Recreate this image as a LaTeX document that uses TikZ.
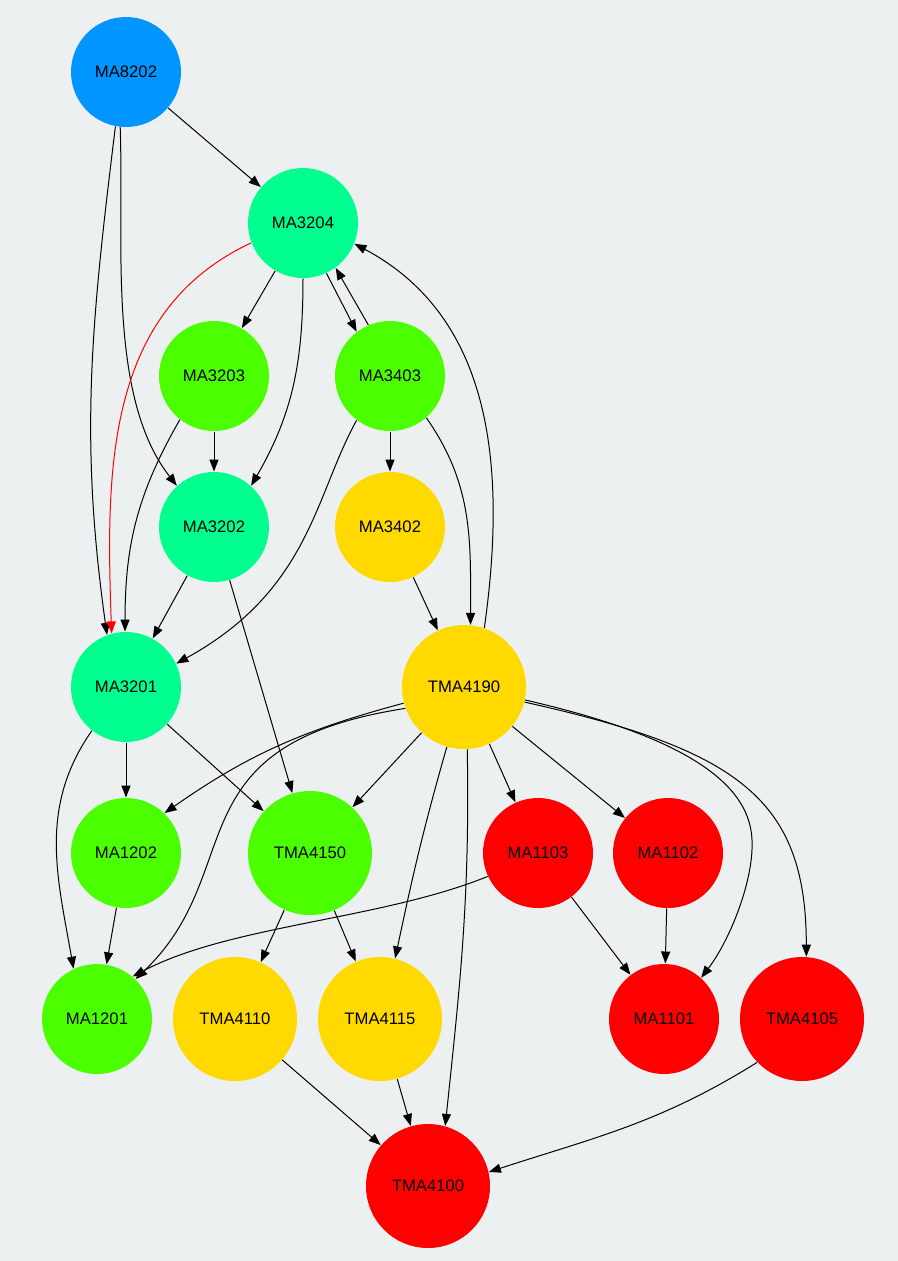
\documentclass[tikz,border=0pt]{standalone}
\usepackage{fontspec}
\setmainfont{Liberation Sans}
\usetikzlibrary{arrows.meta}
\definecolor{bgcol}{HTML}{ECF0F1}
\definecolor{cblue}{HTML}{0095FF}
\definecolor{cteal}{HTML}{00FF8F}
\definecolor{cgreen}{HTML}{4CFF00}
\definecolor{cyellow}{HTML}{FFD900}
\definecolor{cred}{HTML}{FF0000}
\begin{document}
\begin{tikzpicture}[x=0.75pt, y=-0.75pt, line width=0.75pt,
  >={Triangle[length=9pt,width=6.8pt]},
  course/.style={circle, minimum size=82.5pt, inner sep=0pt, font=\fontsize{12.5}{14}\selectfont},
  big/.style={minimum size=93pt}]
  \fill[bgcol] (0,0) rectangle (898,1261);
  \useasboundingbox (0,0) rectangle (898,1261);

  % courses
  \node[course, fill=cblue] (MA8202) at (126,72) {MA8202};
  \node[course, fill=cteal] (MA3204) at (303,223) {MA3204};
  \node[course, fill=cgreen] (MA3203) at (214,376) {MA3203};
  \node[course, fill=cgreen] (MA3403) at (390,376) {MA3403};
  \node[course, fill=cteal] (MA3202) at (214,527) {MA3202};
  \node[course, fill=cyellow] (MA3402) at (390,527) {MA3402};
  \node[course, fill=cteal] (MA3201) at (126,687) {MA3201};
  \node[course, big, fill=cyellow] (TMA4190) at (464,687) {TMA4190};
  \node[course, fill=cgreen] (MA1202) at (126,853) {MA1202};
  \node[course, big, fill=cgreen] (TMA4150) at (310,853) {TMA4150};
  \node[course, fill=cred] (MA1103) at (538,853) {MA1103};
  \node[course, fill=cred] (MA1102) at (668,853) {MA1102};
  \node[course, fill=cgreen] (MA1201) at (97,1019) {MA1201};
  \node[course, big, fill=cyellow] (TMA4110) at (235,1019) {TMA4110};
  \node[course, big, fill=cyellow] (TMA4115) at (380,1019) {TMA4115};
  \node[course, fill=cred] (MA1101) at (664,1019) {MA1101};
  \node[course, big, fill=cred] (TMA4105) at (802,1019) {TMA4105};
  \node[course, big, fill=cred] (TMA4100) at (428,1186) {TMA4100};

  % prerequisites
  \draw[->] (MA8202) -- (MA3204);
  \draw[->] (MA8202.264) to[out=-88, in=128, looseness=0.8] (MA3202.132);
  \draw[->] (MA8202.259) to[out=-97, in=98] (MA3201.110);
  \draw[->, red] (MA3204.201) to[out=205, in=92] (MA3201.105);
  \draw[->] (MA3204) -- (MA3203);
  \draw[->] (MA3204.270) to[out=-90, in=60] (MA3202.48);
  \draw[->] (MA3204.-65) -- (MA3403.127);
  \draw[->] (MA3403.113) -- (MA3204.-54);
  \draw[->] (MA3203) -- (MA3202);
  \draw[->] (MA3203.232) to[out=240, in=90] (MA3201.91);
  \draw[->] (MA3403) -- (MA3402);
  \draw[->] (MA3403.233) .. controls (315,495) and (310,590) .. (MA3201.25);
  \draw[->] (MA3403.-49) to[out=-55, in=90] (TMA4190.84);
  \draw[->] (MA3402) -- (TMA4190);
  \draw[->] (MA3202) -- (MA3201);
  \draw[->] (MA3202) -- (TMA4150);
  \draw[->] (TMA4190.71) to[out=82, in=-28] (MA3204.-22);
  \draw[->] (MA3201) -- (MA1202);
  \draw[->] (MA3201) -- (TMA4150);
  \draw[->] (MA3201.232) to[out=235, in=100] (MA1201.115);
  \draw[->] (MA1202) -- (MA1201);
  \draw[->] (TMA4190.195) to[out=195, in=35] (MA1202.46);
  \draw[->] (TMA4190.200) .. controls (170,745) and (250,870) .. (MA1201.46);
  \draw[->] (TMA4190) -- (TMA4150);
  \draw[->] (TMA4190.254) to[out=254, in=78] (TMA4115.76);
  \draw[->] (TMA4190.-87) to[out=-89, in=84] (TMA4100.74);
  \draw[->] (TMA4190) -- (MA1103);
  \draw[->] (TMA4190) -- (MA1102);
  \draw[->] (TMA4190.-12) .. controls (700,740) and (750,790) .. (752,840)
    .. controls (754,880) and (730,940) .. (MA1101.48);
  \draw[->] (TMA4190.-14) .. controls (740,750) and (806,800) .. (TMA4105.86);
  \draw[->] (MA1103.205) .. controls (380,920) and (230,925) .. (MA1201.50);
  \draw[->] (MA1103) -- (MA1101);
  \draw[->] (MA1102) -- (MA1101);
  \draw[->] (TMA4150) -- (TMA4110);
  \draw[->] (TMA4150) -- (TMA4115);
  \draw[->] (TMA4110) -- (TMA4100);
  \draw[->] (TMA4115) -- (TMA4100);
  \draw[->] (TMA4105.224) to[out=212, in=18] (TMA4100.13);
\end{tikzpicture}
\end{document}
